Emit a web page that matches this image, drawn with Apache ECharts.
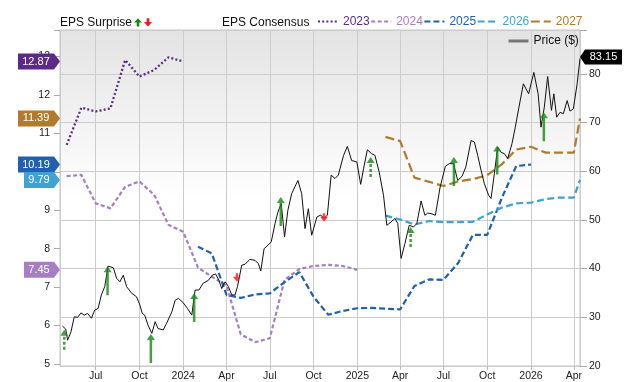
<!DOCTYPE html>
<html><head><meta charset="utf-8">
<script src="https://cdn.jsdelivr.net/npm/echarts@6/dist/echarts.min.js"></script>
<style>html,body{margin:0;padding:0;background:#fff}#c{width:640px;height:382px}</style>
</head><body><div id="c"></div>
<script>
// ---------- data ----------
const xMinDate = '2023-04-17';
const xMaxDate = '2026-04-14';
const monthNames = ['Jan','Feb','Mar','Apr','May','Jun','Jul','Aug','Sep','Oct','Nov','Dec'];

const priceDates = ['2023-04-22','2023-04-29','2023-05-03','2023-05-10','2023-05-17','2023-05-24','2023-05-31','2023-06-07','2023-06-14','2023-06-22','2023-06-29','2023-07-06','2023-07-13','2023-07-20','2023-07-27','2023-08-07','2023-08-14','2023-08-21','2023-08-28','2023-09-04','2023-09-15','2023-09-25','2023-10-02','2023-10-07','2023-10-12','2023-10-19','2023-10-27','2023-11-03','2023-11-09','2023-11-20','2023-11-27','2023-12-08','2023-12-15','2023-12-22','2024-01-01','2024-01-10','2024-01-19','2024-01-26','2024-02-03','2024-02-12','2024-02-23','2024-03-02','2024-03-09','2024-03-16','2024-03-22','2024-03-29','2024-04-05','2024-04-12','2024-04-19','2024-04-24','2024-05-03','2024-05-10','2024-05-20','2024-05-31','2024-06-07','2024-06-12','2024-06-19','2024-06-27','2024-07-04','2024-07-12','2024-07-18','2024-07-25','2024-08-01','2024-08-08','2024-08-16','2024-08-29','2024-09-06','2024-09-13','2024-09-20','2024-09-27','2024-10-08','2024-10-16','2024-10-23','2024-10-30','2024-11-07','2024-11-15','2024-11-22','2024-12-03','2024-12-11','2024-12-20','2024-12-31','2025-01-08','2025-01-14','2025-01-22','2025-01-31','2025-02-07','2025-02-16','2025-02-25','2025-03-04','2025-03-13','2025-03-21','2025-03-27','2025-04-03','2025-04-11','2025-04-20','2025-04-29','2025-05-06','2025-05-15','2025-05-23','2025-05-29','2025-06-05','2025-06-14','2025-06-24','2025-07-05','2025-07-13','2025-07-22','2025-07-31','2025-08-09','2025-08-17','2025-08-28','2025-09-04','2025-09-11','2025-09-18','2025-09-25','2025-10-04','2025-10-09','2025-10-16','2025-10-23','2025-10-30','2025-11-06','2025-11-13','2025-11-22','2025-11-29','2025-12-06','2025-12-16','2025-12-27','2026-01-07','2026-01-16','2026-01-22','2026-01-29','2026-02-05','2026-02-13','2026-02-18','2026-02-24','2026-03-03','2026-03-10','2026-03-18','2026-03-24','2026-03-31','2026-04-08','2026-04-14'];
const priceValues = [28.2,27.6,25.3,27.0,30.1,30.0,30.9,30.45,30.8,29.8,31.5,31.8,34.6,36.3,40.5,40.2,38.0,37.3,38.65,36.3,34.9,34.2,32.5,30.8,30.45,28.4,26.7,29.1,27.7,27.4,28.75,31.1,33.5,33.9,33.0,31.8,30.45,35.6,35.6,37.0,37.6,38.65,38.9,37.6,35.9,37.3,36.3,34.6,34.6,36.3,40.7,40.9,41.9,41.7,41.0,39.5,44.1,44.8,45.5,49.25,51.6,53.35,46.5,52.0,55.4,58.1,55.4,48.2,52.3,46.85,50.6,51.0,50.3,51.0,59.2,58.5,59.2,63.25,65.1,62.2,61.9,57.3,60.5,64.4,63.6,63.25,59.8,55.05,48.9,49.6,50.3,49.25,42.1,45.15,48.9,48.55,49.25,53.9,50.95,51.4,51.3,50.95,56.75,61.0,61.55,61.55,58.1,58.95,60.85,66.3,66.0,63.25,60.2,57.45,55.05,54.4,59.5,64.95,63.9,63.6,62.6,65.65,69.05,72.8,77.95,75.9,80.3,75.9,69.05,73.15,79.45,72.5,75.9,71.1,72.1,71.8,74.5,72.35,72.8,77.95,83.15];

const eps2023Dates = ['2023-05-01','2023-06-01','2023-07-01','2023-08-01','2023-09-01','2023-10-01','2023-11-01','2023-12-01','2024-01-01'];
const eps2023Values = [10.70,11.67,11.57,11.65,12.91,12.48,12.65,12.98,12.87];

const eps2024Dates = ['2023-05-01','2023-06-01','2023-07-01','2023-08-01','2023-09-01','2023-10-01','2023-11-01','2023-12-01','2024-01-01','2024-02-01','2024-03-01','2024-04-01','2024-05-01','2024-06-01','2024-07-01','2024-08-01','2024-09-01','2024-10-01','2024-11-01','2024-12-01','2025-01-01'];
const eps2024Values = [9.89,9.92,9.18,9.05,9.61,9.75,9.40,8.62,8.44,7.51,7.27,7.04,5.77,5.57,5.67,7.19,7.47,7.55,7.58,7.55,7.45];

const eps2025Dates = ['2024-02-01','2024-03-01','2024-04-01','2024-05-01','2024-06-01','2024-07-01','2024-08-01','2024-09-01','2024-10-01','2024-11-01','2024-12-01','2025-01-01','2025-02-01','2025-03-01','2025-04-01','2025-05-01','2025-06-01','2025-07-01','2025-08-01','2025-09-01','2025-10-01','2025-11-01','2025-12-01','2026-01-01'];
const eps2025Values = [8.05,7.88,6.80,6.72,6.81,6.84,7.13,7.39,6.75,6.28,6.38,6.45,6.46,6.44,6.42,7.03,7.20,7.19,7.63,8.36,8.36,9.33,10.15,10.19];

const eps2026Dates = ['2025-03-01','2025-04-01','2025-05-01','2025-06-01','2025-07-01','2025-08-01','2025-09-01','2025-10-01','2025-11-01','2025-12-01','2026-01-01','2026-02-01','2026-03-01','2026-04-01','2026-04-14'];
const eps2026Values = [8.86,8.76,8.63,8.72,8.69,8.69,8.70,8.89,9.07,9.18,9.20,9.29,9.33,9.33,9.79];

const eps2027Dates = eps2026Dates;
const eps2027Values = [10.91,10.80,9.85,9.74,9.63,9.75,9.81,9.91,10.20,10.58,10.65,10.50,10.50,10.50,11.39];

const surpriseDates = ['2023-04-26','2023-07-26','2023-10-25','2024-01-24','2024-04-23','2024-07-24','2024-10-23','2025-01-29','2025-04-23','2025-07-23','2025-10-22','2026-01-28'];
const surpriseTips  = [27.45,40.5,26.55,35.0,37.3,54.7,49.6,62.9,48.55,62.9,65.3,72.1];
const surpriseKinds = ['upSmall','up','up','up','down','up','down','upSmall','upSmall','up','up','up'];

// ---------- styles ----------
const FONT = "'Liberation Sans', Arial, Helvetica, sans-serif";
const GREEN = '#148a14', RED = '#ff1414';
const C2023 = '#5c2a86', C2024 = '#a77ec4', C2025 = '#1f60b0', C2026 = '#3ea3d2', C2027 = '#b07b2d';
const parseT = (s) => (echarts.time && echarts.time.parse) ? +echarts.time.parse(s) : +new Date(s + 'T00:00:00');
const xMin = parseT(xMinDate), xMax = parseT(xMaxDate);
const HIDDEN_SYMBOL = { color: 'rgba(0,0,0,0)', borderColor: 'rgba(0,0,0,0)', borderWidth: 0, opacity: 0 };

const ARROWS = {
  up: { path: 'path://M4,0L8,6L5.25,6L5.25,29L2.75,29L2.75,6L0,6Z', size: [8, 29], offset: [0, 14.5], color: GREEN },
  upSmall: { path: 'path://M4,0L8,6L0,6Z M2.75,7L5.25,7L5.25,10L2.75,10Z M2.75,12L5.25,12L5.25,15L2.75,15Z M2.75,17L5.25,17L5.25,20L2.75,20Z', size: [8, 20], offset: [0, 10], color: GREEN },
  down: { path: 'path://M2.8,0L5.2,0L5.2,3.5L8,3.5L4,8.5L0,3.5L2.8,3.5Z', size: [8, 8.5], offset: [0, -4.25], color: RED }
};

const pairs = (d, v) => d.map((x, i) => [x, v[i]]);

function consensusSeries(name, dates, values, color, dash, width) {
  const last = values[values.length - 1];
  const txt = last.toFixed(2);
  const w = txt.length * 6 + 12;
  return {
    name, type: 'line', xAxisIndex: 1, yAxisIndex: 1, data: pairs(dates, values),
    symbol: 'none', showSymbol: false, silent: true, z: 2,
    lineStyle: { color, width, type: dash, cap: 'butt' }, itemStyle: { color },
    markPoint: {
      silent: true, animation: false,
      data: [{ coord: [xMin, last], value: last,
        symbol: 'path://M0,0L' + (w - 6) + ',0L' + w + ',8L' + (w - 6) + ',16L0,16Z',
        symbolSize: [w, 16], symbolOffset: [-w / 2, 0] }],
      itemStyle: { color },
      label: { show: true, position: 'inside', formatter: txt, color: '#fff', fontSize: 11, fontFamily: FONT, offset: [-3, 0] }
    }
  };
}

const lastPrice = priceValues[priceValues.length - 1];

const option = {
  animation: false,
  textStyle: { fontFamily: FONT },
  grid: [
    { left: 60, right: 60, top: 30, bottom: 15, show: true, borderColor: '#c4c4c4', borderWidth: 1,
      backgroundColor: new echarts.graphic.LinearGradient(0, 0, 0, 1, [
        { offset: 0, color: '#e3e3e3' }, { offset: 0.5, color: '#ffffff' }, { offset: 1, color: '#ffffff' }]) },
    { left: 60, right: 60, top: 30, bottom: 18, show: false }
  ],
  xAxis: [
    { gridIndex: 0, type: 'time', min: xMin, max: xMax, splitNumber: 12,
      axisLine: { show: false },
      axisTick: { show: true, length: 4, lineStyle: { color: '#bbbbbb' } },
      splitLine: { show: true, lineStyle: { color: '#cccccc', width: 1 } },
      axisLabel: { fontSize: 10.5, color: '#222', margin: 5, fontFamily: FONT, hideOverlap: false,
        formatter: (v) => { const d = new Date(v); return d.getMonth() === 0 ? String(d.getFullYear()) : monthNames[d.getMonth()]; } } },
    { gridIndex: 1, type: 'time', min: xMin, max: xMax, show: false }
  ],
  yAxis: [
    { gridIndex: 0, type: 'value', position: 'right', min: 20, max: 89, interval: 10,
      axisLine: { show: false },
      axisTick: { show: true, length: 7, lineStyle: { color: '#aaaaaa' } },
      axisLabel: { margin: 9, fontSize: 10.5, color: '#222', fontFamily: FONT,
        formatter: (v) => (Math.abs(v % 10) < 1e-6 ? String(v) : '') },
      splitLine: { show: true, lineStyle: { color: '#cccccc', width: 1 } } },
    { gridIndex: 1, type: 'value', position: 'left', min: 5, max: 13.69, interval: 1,
      axisLine: { show: false },
      axisTick: { show: true, length: 6, lineStyle: { color: '#aaaaaa' } },
      axisLabel: { margin: 10, fontSize: 10.5, color: '#222', fontFamily: FONT,
        formatter: (v) => (Math.abs(v - Math.round(v)) < 1e-6 ? String(Math.round(v)) : '') },
      splitLine: { show: false } }
  ],
  legend: [
    { left: 317, top: 15.5, padding: 0, itemWidth: 20, itemHeight: 14, itemGap: 0.5, selectedMode: false,
      itemStyle: HIDDEN_SYMBOL,
      textStyle: { fontSize: 12, fontFamily: FONT },
      data: [
        { name: '2023', textStyle: { color: C2023 } },
        { name: '2024', textStyle: { color: C2024 } },
        { name: '2025', textStyle: { color: C2025 } },
        { name: '2026', textStyle: { color: C2026 } },
        { name: '2027', textStyle: { color: C2027 } }
      ] },
    { left: 507, top: 35, padding: 0, itemWidth: 20, itemHeight: 14, selectedMode: false,
      itemStyle: HIDDEN_SYMBOL,
      textStyle: { fontSize: 12, fontFamily: FONT, color: '#111' },
      data: [{ name: 'Price ($)', lineStyle: { color: '#777', width: 3, type: 'solid' } }] }
  ],
  graphic: [
    { type: 'text', left: 60, top: 16.5, silent: true, style: { text: 'EPS Surprise', fontSize: 12, fontFamily: FONT, fill: '#111' } },
    { type: 'polygon', silent: true, shape: { points: [[138, 18.3], [142, 22.5], [139.3, 22.5], [139.3, 26.5], [136.7, 26.5], [136.7, 22.5], [134, 22.5]] }, style: { fill: GREEN } },
    { type: 'polygon', silent: true, shape: { points: [[146.7, 18.3], [149.3, 18.3], [149.3, 22], [152, 22], [148, 26.5], [144, 22], [146.7, 22]] }, style: { fill: RED } },
    { type: 'text', left: 222, top: 16.5, silent: true, style: { text: 'EPS Consensus', fontSize: 12, fontFamily: FONT, fill: '#111' } }
  ],
  series: [
    consensusSeries('2023', eps2023Dates, eps2023Values, C2023, [2, 2.2], 2.3),
    consensusSeries('2024', eps2024Dates, eps2024Values, C2024, [4, 2.5], 2.2),
    consensusSeries('2025', eps2025Dates, eps2025Values, C2025, [6, 3], 2.2),
    consensusSeries('2026', eps2026Dates, eps2026Values, C2026, [7, 3.5], 2.2),
    consensusSeries('2027', eps2027Dates, eps2027Values, C2027, [9, 4], 2.2),
    { name: 'Price ($)', type: 'line', xAxisIndex: 0, yAxisIndex: 0, data: pairs(priceDates, priceValues),
      symbol: 'none', showSymbol: false, silent: true, z: 3,
      lineStyle: { color: '#111', width: 1 }, itemStyle: { color: '#777' },
      markPoint: { silent: true, animation: false,
        data: [{ coord: [xMax, lastPrice], value: lastPrice, symbol: 'path://M0,7.5L5,0L42,0L42,15L5,15Z',
          symbolSize: [42, 15], symbolOffset: [21, -1.5] }],
        itemStyle: { color: '#000' },
        label: { show: true, position: 'inside', formatter: lastPrice.toFixed(2), color: '#fff', fontSize: 11, fontFamily: FONT, offset: [2.5, 0] } } },
    { name: 'EPS Surprise', type: 'scatter', xAxisIndex: 0, yAxisIndex: 0, z: 5, silent: true,
      data: surpriseDates.map((d, i) => {
        const a = ARROWS[surpriseKinds[i]];
        return { value: [d, surpriseTips[i]], symbol: a.path, symbolSize: a.size, symbolOffset: a.offset, itemStyle: { color: a.color } };
      }) }
  ]
};

const chart = echarts.init(document.getElementById('c'), null, { renderer: 'canvas' });
chart.setOption(option);
</script>
</body></html>
